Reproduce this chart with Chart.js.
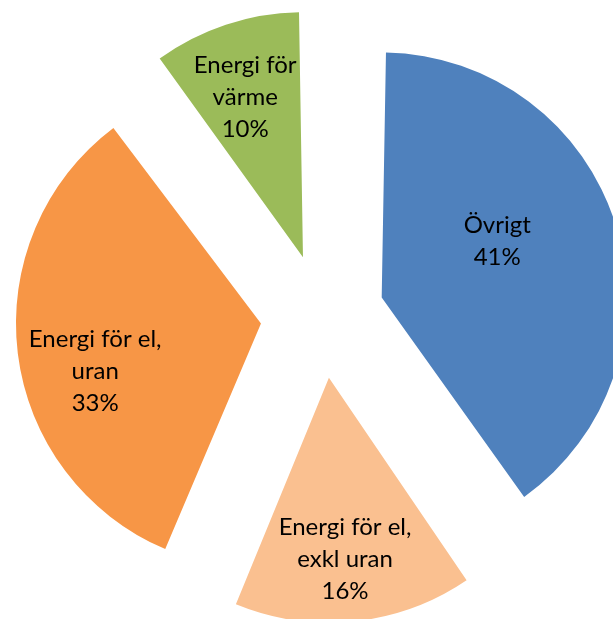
<!DOCTYPE html>
<html>
<head>
<meta charset="utf-8">
<script src="https://cdn.jsdelivr.net/npm/chart.js@4/dist/chart.umd.min.js"></script>
<style>
  html, body { margin: 0; padding: 0; background: #fff; overflow: hidden; }
  #wrap { width: 613px; height: 619px; }
</style>
</head>
<body>
<div id="wrap"><canvas id="pie" width="613" height="619"></canvas></div>
<script>
// slices, clockwise from 12 o'clock
const categories = [['Övrigt'], ['Energi för el,', 'exkl uran'], ['Energi för el,', 'uran'], ['Energi för', 'värme']];
const shares     = [40.4, 15.9, 33.5, 10.2];   // measured from slice angles
const pctLabels  = ['41%', '16%', '33%', '10%']; // as printed on the chart
const colors     = ['#4F81BD', '#FAC090', '#F79646', '#9BBB59'];

const RADIUS  = 245;
const EXPLODE = 62;   // px each slice is pulled out

// where the text block sits, relative to the slice tip
const labelPlacement = [
  { r: 0.525, turn: -8.8 },
  { r: 0.743, turn: 0.85 },
  { r: 0.704, turn: -9 },
  { r: 0.694, turn: -1.5 }
];

// chart.js v4 grows exploded arcs by offset*(1-sin(circ)); undo that so all share one radius
const evenRadius = {
  id: 'evenRadius',
  beforeDatasetsDraw(chart) {
    chart.getDatasetMeta(0).data.forEach(arc => {
      const circ = arc.endAngle - arc.startAngle;
      const fix = 1 - Math.sin(Math.min(Math.PI, circ));
      arc.outerRadius = RADIUS - EXPLODE * fix;
    });
  }
};

const sliceLabels = {
  id: 'sliceLabels',
  afterDatasetsDraw(chart) {
    const ctx = chart.ctx;
    const lineH = 32;
    ctx.save();
    ctx.font = '24px Lato, "Open Sans", sans-serif';
    ctx.fillStyle = '#000';
    ctx.textAlign = 'center';
    ctx.textBaseline = 'middle';
    chart.getDatasetMeta(0).data.forEach((arc, i) => {
      const mid = (arc.startAngle + arc.endAngle) / 2;
      const tipX = arc.x + Math.cos(mid) * EXPLODE;
      const tipY = arc.y + Math.sin(mid) * EXPLODE;
      const p = labelPlacement[i];
      const a = mid + p.turn * Math.PI / 180;
      const cx = tipX + Math.cos(a) * RADIUS * p.r;
      const cy = tipY + Math.sin(a) * RADIUS * p.r;
      const lines = categories[i].concat([pctLabels[i]]);
      const y0 = cy - (lines.length - 1) * lineH / 2;
      lines.forEach((t, k) => ctx.fillText(t, cx, y0 + k * lineH));
    });
    ctx.restore();
  }
};

new Chart(document.getElementById('pie'), {
  type: 'pie',
  data: {
    labels: categories,
    datasets: [{
      data: shares,
      backgroundColor: colors,
      borderWidth: 0,
      offset: EXPLODE * 4
    }]
  },
  options: {
    responsive: false,
    animation: false,
    radius: RADIUS,
    layout: { padding: { left: 32, top: 13, right: 0, bottom: 0 } },
    plugins: {
      legend: { display: false },
      tooltip: { enabled: false }
    }
  },
  plugins: [evenRadius, sliceLabels]
});
</script>
</body>
</html>
